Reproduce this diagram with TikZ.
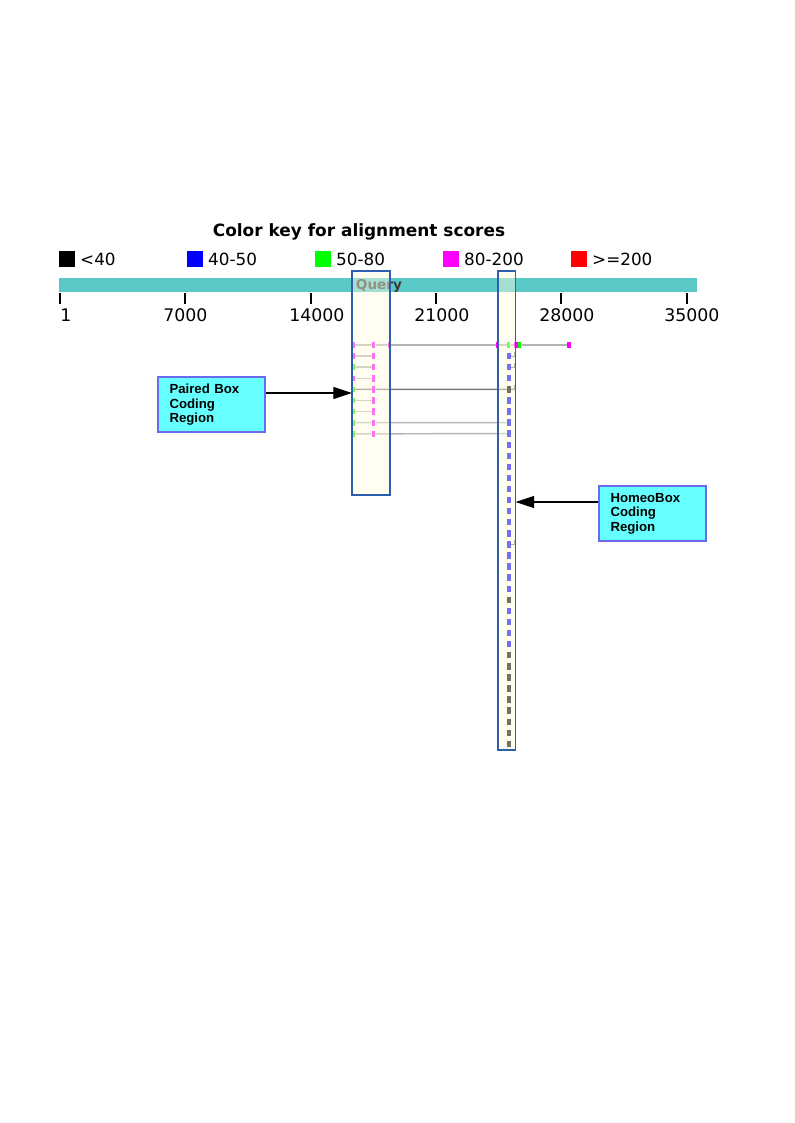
\documentclass[tikz,border=0pt]{standalone}
\usepackage{fontspec}
\setmainfont{DejaVu Sans}
\newfontfamily\annfont{Liberation Sans}
\usetikzlibrary{positioning,arrows.meta}
\definecolor{querybar}{HTML}{5BC8C8}
\definecolor{querytext}{HTML}{3A3A3A}
\definecolor{hitgray}{HTML}{B4B4B4}
\definecolor{hitdark}{HTML}{7A7A7A}
\definecolor{boxfill}{HTML}{FFFCE0}
\definecolor{boxblue}{HTML}{2E5FAD}
\definecolor{annfill}{HTML}{66FFFF}
\definecolor{annborder}{HTML}{6A6AEE}
\definecolor{scblack}{HTML}{000000}
\definecolor{scblue}{HTML}{0000FF}
\definecolor{scgreen}{HTML}{00FF00}
\definecolor{scmagenta}{HTML}{FF00FF}
\definecolor{scred}{HTML}{FF0000}

\begin{document}
\begin{tikzpicture}[x=0.75pt, y=-0.75pt]
        \tikzstyle{keybox}=[minimum size=12pt, inner sep=0pt]
        \tikzstyle{keytext}=[inner sep=0pt, font=\fontsize{12.6}{15}\selectfont]
        \tikzstyle{scaletick}=[line width=1.5pt, black]
        \tikzstyle{ticklabel}=[anchor=west, inner sep=0pt, font=\fontsize{13}{15}\selectfont]
        \tikzstyle{hit}=[inner sep=0pt, minimum width=2.6pt, minimum height=4.8pt]
        \tikzstyle{hitmark}=[inner sep=0pt, minimum width=1.6pt, minimum height=4.2pt]
        \tikzstyle{hitline}=[line width=1.1pt, draw=hitgray]
        \tikzstyle{hlbox}=[draw=boxblue, line width=0.8pt, fill=boxfill, fill opacity=0.45]
        \tikzstyle{annot}=[draw=annborder, line width=1.5pt, fill=annfill, align=left, text width=63pt, inner xsep=8.25pt, minimum width=80.25pt, minimum height=41.5pt, font=\annfont\bfseries\fontsize{9.9}{10.9}\selectfont]
        \tikzstyle{annarrow}=[-{Triangle[length=14pt, width=9pt]}, line width=0.8pt]

        \useasboundingbox (0,0) rectangle (794,1123);

        % Leyenda de colores
        \node[font=\bfseries\fontsize{12.7}{15}\selectfont] (title) at (359,232) {Color key for alignment scores};
        \node[keybox, fill=scblack] (k1) at (67,259) {}; \node[keytext, right=3.5pt of k1] (k1t) {<40};
        \node[keybox, fill=scblue] (k2) at (195,259) {}; \node[keytext, right=3.5pt of k2] (k2t) {40-50};
        \node[keybox, fill=scgreen] (k3) at (323,259) {}; \node[keytext, right=3.5pt of k3] (k3t) {50-80};
        \node[keybox, fill=scmagenta] (k4) at (451,259) {}; \node[keytext, right=3.5pt of k4] (k4t) {80-200};
        \node[keybox, fill=scred] (k5) at (579,259) {}; \node[keytext, right=3.5pt of k5] (k5t) {>=200};

        % Barra de la consulta y escala
        \fill[querybar] (59,278) rectangle (697,292);
        \node[font=\bfseries\fontsize{10.2}{12}\selectfont, text=querytext, inner sep=0pt] (qlabel) at (379,285.5) {Query};
        \foreach \x/\lx/\lab in {60/60/1, 185.3/163/7000, 310.6/289/14000, 436/414/21000, 561/539/28000, 686.5/664/35000} {
            \draw[scaletick] (\x,293) -- (\x,304);
            \node[ticklabel] (lab\lab) at (\lx,315) {\lab};
        }

        % Alineamientos del primer bloque
        \foreach \i/\c in {0/scmagenta, 1/scmagenta, 2/scgreen, 3/scmagenta, 4/scgreen, 5/scgreen, 6/scgreen, 7/scgreen, 8/scgreen} {
            \node[hitmark, fill=\c] (l\i) at (353.5,{345+11.1*\i}) {};
            \node[hit, fill=scmagenta] (p\i) at (373.5,{345+11.1*\i}) {};
        }

        % Columna de alineamientos del segundo bloque
        \node[hit, fill=scgreen] (c0) at (508.5,345) {};
        \foreach \i in {1,2,3} {\node[hit, fill=scblue] (c\i) at (509,{345+11.08*\i}) {};}
        \foreach \i in {5,...,22} {\node[hit, fill=scblue] (c\i) at (509,{345+11.08*\i}) {};}
        \foreach \i in {24,...,27} {\node[hit, fill=scblue] (c\i) at (509,{345+11.08*\i}) {};}
        \foreach \i in {4,23,28,29,30,31,32,33,34,35,36} {\node[hit, fill=scblack] (c\i) at (509,{345+11.08*\i}) {};}

        % Primera fila, que cruza toda la consulta
        \node[hitmark, fill=scmagenta] (a0) at (389.5,345) {};
        \node[hitmark, fill=scmagenta] (b0) at (497,345) {};
        \node[hit, fill=scmagenta] (d0) at (515.8,345) {};
        \node[hit, fill=scgreen] (g0) at (519.6,345) {};
        \node[hit, fill=scmagenta] (e0) at (569,345) {};
        \draw[hitline] (l0) -- (p0) -- (a0) -- (b0) -- (c0) -- (d0);
        \draw[hitline] (g0) -- (e0);

        % Conectores de las demas filas
        \foreach \i in {1,2,3,5,6} {\draw[hitline] (l\i) -- (p\i);}
        \foreach \i in {7,8} {\draw[hitline] (l\i) -- (p\i) -- (c\i);}
        \coordinate (s4) at (515,{345+11.08*4});
        \draw[hitline, draw=hitdark] (l4) -- (p4) -- (c4) -- (s4);
        \foreach \i in {1,2,4,18} {
            \coordinate (s\i) at (515,{345+11.08*\i});
            \draw[hitline, draw=hitdark, line width=0.8pt] (c\i) -- (s\i) -- ++(0,-4);
        }

        % Recuadros resaltados
        \path[hlbox] (352,271) rectangle (390,495);
        \path[hlbox] (498,271) rectangle (515.5,750);

        % Anotaciones
        \node[annot, anchor=north west] (paired) at (157,376) {Paired Box\\Coding\\Region};
        \coordinate (pairedtip) at (352,393);
        \draw[annarrow] (paired.east |- pairedtip) -- (pairedtip);

        \node[annot, anchor=north west] (homeo) at (598,485) {HomeoBox\\Coding\\Region};
        \coordinate (homeotip) at (515.5,502);
        \draw[annarrow] (homeo.west |- homeotip) -- (homeotip);
\end{tikzpicture}
\end{document}
